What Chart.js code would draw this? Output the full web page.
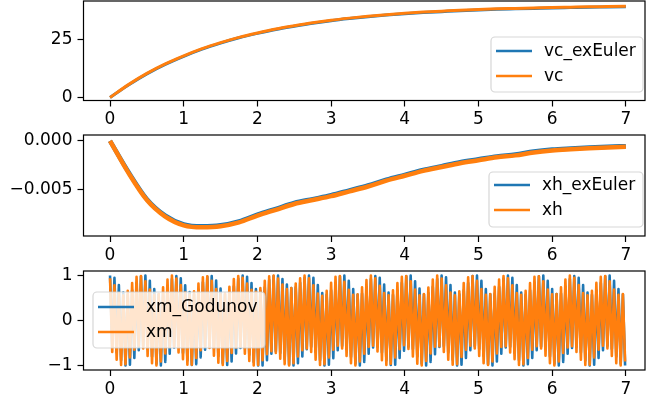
<!DOCTYPE html>
<html>
<head>
<meta charset="utf-8">
<script src="https://cdn.jsdelivr.net/npm/chart.js@4.4.0/dist/chart.umd.min.js"></script>
<style>
  body { margin: 0; background: #fff; width: 646px; height: 402px; overflow: hidden; position: relative; }
  canvas { position: absolute; left: 0; }
</style>
</head>
<body>
<canvas id="c1" width="646" height="130" style="top:0px"></canvas>
<canvas id="c2" width="646" height="135" style="top:130px"></canvas>
<canvas id="c3" width="646" height="137" style="top:265px"></canvas>
<script>
// --- data ---
var tCoarse = [0, 0.25, 0.5, 0.75, 1, 1.25, 1.5, 1.75, 2, 2.25, 2.5, 2.75, 3, 3.25, 3.5,
  3.75, 4, 4.25, 4.5, 4.75, 5, 5.25, 5.5, 5.75, 6, 6.25, 6.5, 6.75, 7];

var vcExEuler = [0, 5.4, 10.2, 14.3, 17.8, 20.9, 23.5, 25.8, 27.7, 29.4, 30.8, 32.1, 33.2, 34.1,
  34.9, 35.6, 36.2, 36.7, 37.1, 37.5, 37.8, 38.1, 38.3, 38.5, 38.7, 38.85, 39.0, 39.1, 39.2];
var vc = [0, 5.56, 10.4, 14.5, 18.0, 21.1, 23.7, 26.0, 27.9, 29.6, 31.0, 32.3, 33.4, 34.3,
  35.1, 35.8, 36.4, 36.9, 37.3, 37.7, 38.0, 38.3, 38.5, 38.7, 38.9, 39.05, 39.2, 39.3, 39.4];

var xhExEuler = [0, -0.0032, -0.0060, -0.0077, -0.0086, -0.0088, -0.0087, -0.0083, -0.0076,
  -0.0070, -0.0064, -0.0060, -0.0056, -0.0051, -0.0046, -0.0040, -0.0035, -0.0030, -0.0026,
  -0.0022, -0.0019, -0.0016, -0.0014, -0.0011, -0.0009, -0.00078, -0.00068, -0.0006, -0.00055];
var xh = [0, -0.0033, -0.0061, -0.0078, -0.0087, -0.0089, -0.0088, -0.0084, -0.0077,
  -0.0071, -0.0065, -0.0061, -0.0057, -0.0052, -0.0047, -0.0041, -0.0036, -0.0031, -0.0027,
  -0.0023, -0.0020, -0.0017, -0.0015, -0.0012, -0.0010, -0.00087, -0.00076, -0.00068, -0.00062];

// xm samples, one every sampleStep seconds
var sampleStep = 0.03;
var xmGodunov = [
  1.0, -0.58, 0.95, -0.71, 0.79, -0.88, 0.62, -1.0, 0.57, -0.98, 0.67, -0.83, 0.84, -0.66, 0.98,
  -0.57, 1.0, -0.63, 0.88, -0.80, 0.70, -0.96, 0.58, -1.0, 0.60, -0.92, 0.75, -0.74, 0.92, -0.60,
  0.99, -0.59, 0.94, -0.72, 0.78, -0.89, 0.63, -0.99, 0.58, -0.97, 0.68, -0.82, 0.85, -0.65, 0.97,
  -0.58, 0.99, -0.62, 0.89, -0.79, 0.71, -0.95, 0.59, -0.99, 0.61, -0.91, 0.76, -0.73, 0.93, -0.61,
  1.0, -0.62, 0.97, -0.76, 0.83, -0.92, 0.70, -1.0, 0.66, -1.0, 0.74, -0.88, 0.90, -0.74, 0.99,
  -0.68, 1.0, -0.72, 0.92, -0.86, 0.80, -0.98, 0.72, -1.0, 0.74, -0.95, 0.84, -0.80, 0.95, -0.64,
  1.0, -0.58, 0.95, -0.70, 0.79, -0.88, 0.61, -1.0, 0.57, -0.98, 0.67, -0.84, 0.84, -0.66, 0.98,
  -0.57, 1.0, -0.64, 0.88, -0.81, 0.70, -0.96, 0.57, -1.0, 0.60, -0.92, 0.74, -0.74, 0.92, -0.60,
  0.99, -0.58, 0.95, -0.71, 0.80, -0.88, 0.62, -0.99, 0.57, -0.98, 0.66, -0.83, 0.84, -0.67, 0.98,
  -0.58, 1.0, -0.63, 0.87, -0.80, 0.71, -0.96, 0.58, -1.0, 0.61, -0.92, 0.75, -0.75, 0.92, -0.59,
  1.0, -0.57, 0.96, -0.71, 0.79, -0.87, 0.62, -1.0, 0.58, -0.98, 0.67, -0.83, 0.83, -0.66, 0.99,
  -0.57, 1.0, -0.63, 0.88, -0.79, 0.70, -0.97, 0.58, -1.0, 0.60, -0.91, 0.75, -0.74, 0.93, -0.60,
  1.0, -0.58, 0.95, -0.72, 0.79, -0.88, 0.62, -1.0, 0.57, -0.97, 0.67, -0.83, 0.84, -0.66, 0.98,
  -0.58, 1.0, -0.63, 0.88, -0.80, 0.70, -0.96, 0.59, -1.0, 0.60, -0.92, 0.75, -0.74, 0.92, -0.61,
  0.99, -0.58, 0.95, -0.71, 0.79, -0.89, 0.62, -1.0, 0.57, -0.98, 0.67, -0.83, 0.84, -0.66, 0.98,
  -0.57, 1.0, -0.63, 0.88, -0.80, 0.70, -0.96, 0.58, -1.0
];
var xm = [
  0.94, -0.70, 0.78, -0.87, 0.61, -0.99, 0.56, -0.97, 0.66, -0.82, 0.83, -0.65, 0.97, -0.56, 0.99,
  -0.62, 0.87, -0.79, 0.69, -0.95, 0.57, -1.0, 0.59, -0.91, 0.74, -0.73, 0.91, -0.59, 1.0, -0.57,
  0.93, -0.71, 0.79, -0.86, 0.62, -0.98, 0.57, -0.98, 0.65, -0.83, 0.82, -0.66, 0.96, -0.57, 0.98,
  -0.61, 0.88, -0.78, 0.70, -0.94, 0.58, -0.99, 0.60, -0.90, 0.75, -0.72, 0.92, -0.60, 0.99, -0.58,
  0.95, -0.74, 0.82, -0.90, 0.68, -1.0, 0.64, -0.99, 0.72, -0.88, 0.88, -0.75, 0.98, -0.68, 1.0,
  -0.72, 0.93, -0.85, 0.80, -0.97, 0.70, -1.0, 0.72, -0.95, 0.82, -0.80, 0.94, -0.66, 1.0, -0.62,
  0.94, -0.70, 0.78, -0.87, 0.60, -0.99, 0.55, -0.97, 0.66, -0.82, 0.84, -0.65, 0.97, -0.56, 0.99,
  -0.62, 0.86, -0.79, 0.68, -0.95, 0.57, -1.0, 0.58, -0.91, 0.74, -0.74, 0.90, -0.59, 1.0, -0.56,
  0.94, -0.69, 0.77, -0.88, 0.61, -0.99, 0.56, -0.96, 0.67, -0.82, 0.83, -0.64, 0.97, -0.55, 0.99,
  -0.63, 0.87, -0.80, 0.69, -0.96, 0.56, -1.0, 0.59, -0.90, 0.73, -0.73, 0.91, -0.58, 1.0, -0.57,
  0.93, -0.70, 0.78, -0.87, 0.62, -0.98, 0.56, -0.97, 0.65, -0.81, 0.83, -0.65, 0.96, -0.56, 0.99,
  -0.62, 0.88, -0.79, 0.70, -0.95, 0.57, -0.99, 0.59, -0.91, 0.75, -0.73, 0.91, -0.59, 0.99, -0.57,
  0.94, -0.71, 0.78, -0.86, 0.61, -0.99, 0.57, -0.97, 0.66, -0.83, 0.83, -0.65, 0.97, -0.57, 0.98,
  -0.62, 0.87, -0.78, 0.69, -0.95, 0.58, -1.0, 0.59, -0.91, 0.74, -0.72, 0.91, -0.60, 1.0, -0.57,
  0.95, -0.70, 0.79, -0.87, 0.61, -0.99, 0.56, -0.98, 0.66, -0.82, 0.84, -0.65, 0.97, -0.56, 0.99,
  -0.62, 0.87, -0.79, 0.69, -0.95, 0.57, -1.0, 0.59, -0.91
];

var xTicks = [0, 1, 2, 3, 4, 5, 6, 7];
var yTicks1 = [0, 25];
var yLabels1 = ["0", "25"];
var yTicks2 = [-0.005, 0];
var yLabels2 = ["\u22120.005", "0.000"];
var yTicks3 = [-1, 0, 1];
var yLabels3 = ["\u22121", "0", "1"];

var BLUE = "#1f77b4";
var ORANGE = "#ff7f0e";
var FONT = "'DejaVu Sans', sans-serif";

function pts(xs, ys) {
  var out = [];
  for (var i = 0; i < ys.length; i++) out.push({ x: xs[i], y: ys[i] });
  return out;
}
function samplePts(ys) {
  var out = [];
  for (var i = 0; i < ys.length; i++) out.push({ x: i * sampleStep, y: ys[i] });
  return out;
}

// frame + legend drawn on top of the lines
var framePlugin = {
  id: "frameLegend",
  afterDatasetsDraw: function (chart, args, opts) {
    var ctx = chart.ctx, a = chart.chartArea;
    ctx.save();
    ctx.strokeStyle = "#000";
    ctx.lineWidth = 1.2;
    ctx.strokeRect(a.left, a.top, a.right - a.left, a.bottom - a.top);

    var L = opts.box;
    ctx.beginPath();
    ctx.roundRect(L.x, L.y, L.w, L.h, 4);
    ctx.fillStyle = "rgba(255,255,255,0.8)";
    ctx.fill();
    ctx.strokeStyle = "rgba(204,204,204,0.8)";
    ctx.lineWidth = 1.2;
    ctx.stroke();

    ctx.font = "17px " + FONT;
    ctx.textBaseline = "middle";
    ctx.fillStyle = "#000";
    for (var i = 0; i < opts.items.length; i++) {
      var it = opts.items[i];
      var yy = L.y + L.row0 + i * L.gap;
      ctx.beginPath();
      ctx.moveTo(L.x + 5, yy);
      ctx.lineTo(L.x + 41, yy);
      ctx.strokeStyle = it.color;
      ctx.lineWidth = 2.6;
      ctx.stroke();
      ctx.fillText(it.label, L.x + 53, yy + 1);
    }
    ctx.restore();
  }
};

function axes(yMin, yMax, yTicks, yLabels, xHeight) {
  return {
    x: {
      type: "linear", min: -0.36, max: 7.26,
      afterBuildTicks: function (s) { s.ticks = xTicks.map(function (v) { return { value: v }; }); },
      afterFit: function (s) { s.height = xHeight; s.paddingLeft = 0; s.paddingRight = 0; },
      ticks: { font: { family: FONT, size: 17 }, color: "#000", padding: 3, maxRotation: 0, autoSkip: false },
      grid: { drawOnChartArea: false, drawTicks: true, tickLength: 6, tickColor: "#000", tickWidth: 1.2 },
      border: { display: false }
    },
    y: {
      type: "linear", min: yMin, max: yMax,
      afterBuildTicks: function (s) { s.ticks = yTicks.map(function (v) { return { value: v }; }); },
      afterFit: function (s) { s.width = 83.5; s.paddingTop = 0; s.paddingBottom = 0; },
      ticks: {
        font: { family: FONT, size: 17 }, color: "#000", padding: 5,
        callback: function (v, i) { return yLabels[i]; }
      },
      grid: { drawOnChartArea: false, drawTicks: true, tickLength: 6, tickColor: "#000", tickWidth: 1.2 },
      border: { display: false }
    }
  };
}

function makeChart(id, datasets, scales, padTop, legend) {
  return new Chart(document.getElementById(id), {
    type: "line",
    data: { datasets: datasets },
    options: {
      responsive: false,
      animation: false,
      devicePixelRatio: 1,
      layout: { padding: { top: padTop, right: 1, left: 0, bottom: 0 } },
      elements: { point: { radius: 0 }, line: { borderJoinStyle: "round" } },
      scales: scales,
      plugins: { legend: { display: false }, tooltip: { enabled: false }, frameLegend: legend }
    },
    plugins: [framePlugin]
  });
}

makeChart("c1", [
  { label: "vc_exEuler", data: pts(tCoarse, vcExEuler), borderColor: BLUE, borderWidth: 3, cubicInterpolationMode: "monotone", order: 2 },
  { label: "vc", data: pts(tCoarse, vc), borderColor: ORANGE, borderWidth: 3, cubicInterpolationMode: "monotone", order: 1 }
], axes(-1.3, 41.7, yTicks1, yLabels1, 29.5), 1, {
  box: { x: 491, y: 37, w: 152, h: 55, row0: 14, gap: 25 },
  items: [{ label: "vc_exEuler", color: BLUE }, { label: "vc", color: ORANGE }]
});

makeChart("c2", [
  { label: "xh_exEuler", data: pts(tCoarse, xhExEuler), borderColor: BLUE, borderWidth: 4.5, cubicInterpolationMode: "monotone", order: 2 },
  { label: "xh", data: pts(tCoarse, xh), borderColor: ORANGE, borderWidth: 4.5, cubicInterpolationMode: "monotone", order: 1 }
], axes(-0.0098, 0.0006, yTicks2, yLabels2, 29), 5, {
  box: { x: 489, y: 42, w: 154, h: 55, row0: 13, gap: 25 },
  items: [{ label: "xh_exEuler", color: BLUE }, { label: "xh", color: ORANGE }]
});

makeChart("c3", [
  { label: "xm_Godunov", data: samplePts(xmGodunov), borderColor: BLUE, borderWidth: 2.6, tension: 0, order: 2 },
  { label: "xm", data: samplePts(xm), borderColor: ORANGE, borderWidth: 2.6, tension: 0, order: 1 }
], axes(-1.1, 1.1, yTicks3, yLabels3, 32), 6, {
  box: { x: 93, y: 27, w: 172, h: 56, row0: 15, gap: 25 },
  items: [{ label: "xm_Godunov", color: BLUE }, { label: "xm", color: ORANGE }]
});
</script>
</body>
</html>
